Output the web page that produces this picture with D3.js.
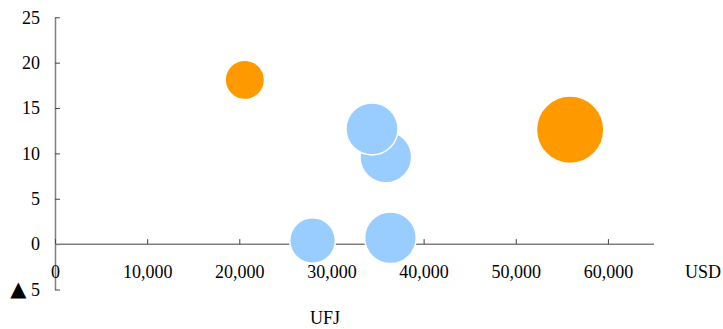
<!DOCTYPE html>
<html>
<head>
<meta charset="utf-8">
<script src="https://cdn.jsdelivr.net/npm/d3@7"></script>
<style>
  html, body { margin: 0; padding: 0; background: #fff; }
  svg { display: block; font-family: "Liberation Serif", "Times New Roman", serif; }
</style>
</head>
<body>
<svg id="chart" width="723" height="329"></svg>
<script>
// Bubble data: income (USD), growth (%), bubble size, group
const names  = ["A", "B", "C", "D", "E", "F"];
const incomeUsd = [20600, 55900, 35900, 34400, 27950, 36400];
const growthPct = [18.1, 12.6, 9.6, 12.7, 0.4, 0.7];
const bubbleSize = [388, 1136, 666, 676, 520, 666];
const groupKey = ["hi", "hi", "lo", "lo", "lo", "lo"];

const xTicks = [0, 10000, 20000, 30000, 40000, 50000, 60000];
const yTicks = [-5, 0, 5, 10, 15, 20, 25];
const xUnitLabel = "USD";
const footLabel = "UFJ";

const colors = { hi: "#FF9900", lo: "#99CCFF" };

const svg = d3.select("#chart");

const x = d3.scaleLinear().domain([0, 65000]).range([55, 654]);
const y = d3.scaleLinear().domain([-5, 25]).range([289.5, 17.3]);
const r = d3.scaleSqrt().domain([0, d3.max(bubbleSize)]).range([0, 33.7]);

// Y axis: ticks point inward (right)
const yAxis = d3.axisLeft(y)
  .tickValues(yTicks)
  .tickSizeInner(-5)
  .tickSizeOuter(0)
  .tickPadding(15)
  .tickFormat(d => String(Math.abs(d)));

const gy = svg.append("g").attr("transform", `translate(${x(0)},0)`).call(yAxis);

// Negative values are marked with a ▲ in front of the number
gy.selectAll(".tick text")
  .filter(d => d < 0)
  .each(function(d) {
    const t = d3.select(this).text("");
    t.append("tspan")
      .attr("font-family", "'DejaVu Sans', sans-serif")
      .attr("font-size", 21)
      .text("\u25B2");
    t.append("tspan").text("\u00A0" + Math.abs(d));
  });

// X axis drawn along y = 0
const xAxis = d3.axisBottom(x)
  .tickValues(xTicks)
  .tickSizeInner(-5)
  .tickSizeOuter(0)
  .tickFormat(d3.format(","));

const gx = svg.append("g").attr("transform", `translate(0,${y(0)})`).call(xAxis);
gx.selectAll("text").attr("y", 28).attr("dy", "0.35em");
gx.select(".domain").attr("d", `M${x(0)},0H${x(65000)}`);

[gx, gy].forEach(g => {
  g.select(".domain").attr("stroke", "#808080").attr("stroke-width", 1.5);
  g.selectAll(".tick line").attr("stroke", "#444").attr("stroke-width", 1);
  g.selectAll(".tick text").attr("fill", "#000").attr("font-size", 18)
    .attr("font-family", "'Liberation Serif', serif");
});

// Bubbles
const data = names.map((n, i) => ({
  name: n, x: incomeUsd[i], y: growthPct[i], s: bubbleSize[i], g: groupKey[i]
}));

svg.append("g").selectAll("circle")
  .data(data)
  .join("circle")
  .attr("cx", d => x(d.x))
  .attr("cy", d => y(d.y))
  .attr("r", d => r(d.s))
  .attr("fill", d => colors[d.g])
  .attr("stroke", "#fff")
  .attr("stroke-width", 1.5);

// Unit and footer labels
svg.append("text")
  .attr("x", 703).attr("y", 272).attr("dy", "0.35em")
  .attr("text-anchor", "middle").attr("font-size", 18)
  .text(xUnitLabel);

svg.append("text")
  .attr("x", 325).attr("y", 318).attr("dy", "0.35em")
  .attr("text-anchor", "middle").attr("font-size", 18)
  .text(footLabel);
</script>
</body>
</html>
